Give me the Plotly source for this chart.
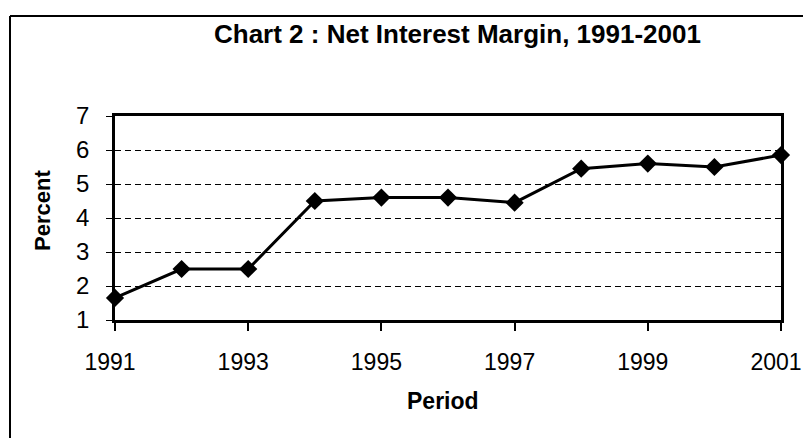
import plotly.graph_objects as go

years = [1991, 1992, 1993, 1994, 1995, 1996, 1997, 1998, 1999, 2000, 2001]
nim = [1.65, 2.5, 2.5, 4.5, 4.6, 4.6, 4.45, 5.45, 5.6, 5.5, 5.85]
x_ticks = [1991, 1993, 1995, 1997, 1999, 2001]
y_ticks = [1, 2, 3, 4, 5, 6, 7]

title_text = "Chart 2 : Net Interest Margin, 1991-2001"
x_title = "Period"
y_title = "Percent"

W, H = 803, 438
L, R, T, B = 115, 22, 116, 118
PW, PH = W - L - R, H - T - B


def px_x(px):
    return (px - L) / PW


def px_y(py):
    return 1 - (py - T) / PH


fig = go.Figure()
fig.add_trace(go.Scatter(
    x=years, y=nim, mode="lines+markers",
    line=dict(color="black", width=3),
    marker=dict(symbol="diamond", size=14, color="black"),
    cliponaxis=False, showlegend=False,
))

font = "Liberation Sans, Arial, sans-serif"
fig.update_layout(
    width=W, height=H,
    margin=dict(l=L, r=R, t=T, b=B, autoexpand=False),
    paper_bgcolor="white", plot_bgcolor="white",
    font=dict(family=font, color="black"),
    xaxis=dict(
        range=[1991, 2001], tickvals=x_ticks, ticktext=[str(v) for v in x_ticks],
        showgrid=False, zeroline=False, automargin=False,
        showline=True, linecolor="black", linewidth=2.5, mirror=True,
        ticks="outside", ticklen=8, tickcolor="black", tickwidth=1.5,
        tickfont=dict(size=23, family=font), ticklabelstandoff=12,
        ticklabelshift=-5, ticklabeloverflow="allow",
    ),
    yaxis=dict(
        range=[1, 7], tickvals=y_ticks, automargin=False,
        showgrid=True, gridcolor="black", gridwidth=1.3, griddash="6px,4px",
        zeroline=False,
        showline=True, linecolor="black", linewidth=2.5, mirror=True,
        ticks="outside", ticklen=6, tickcolor="black", tickwidth=1.3,
        tickfont=dict(size=24, family=font), ticklabelstandoff=12,
    ),
    annotations=[
        dict(text="<b>" + title_text + "</b>", xref="paper", yref="paper",
             x=px_x(457), y=px_y(34), xanchor="center", yanchor="middle",
             showarrow=False, font=dict(size=26, family=font)),
        dict(text="<b>" + x_title + "</b>", xref="paper", yref="paper",
             x=px_x(443), y=px_y(401), xanchor="center", yanchor="middle",
             showarrow=False, font=dict(size=23, family=font)),
        dict(text="<b>" + y_title + "</b>", xref="paper", yref="paper",
             x=px_x(42), y=px_y(211), xanchor="center", yanchor="middle",
             textangle=-90, showarrow=False, font=dict(size=22, family=font)),
    ],
    shapes=[
        dict(type="line", xref="paper", yref="paper",
             x0=px_x(10), x1=px_x(W), y0=px_y(16), y1=px_y(16),
             line=dict(color="black", width=2)),
        dict(type="line", xref="paper", yref="paper",
             x0=px_x(10), x1=px_x(10), y0=px_y(16), y1=px_y(H),
             line=dict(color="black", width=2)),
    ],
)

fig.write_html("out.html", config={"displayModeBar": False},
               post_script="document.body.style.margin='0';")
